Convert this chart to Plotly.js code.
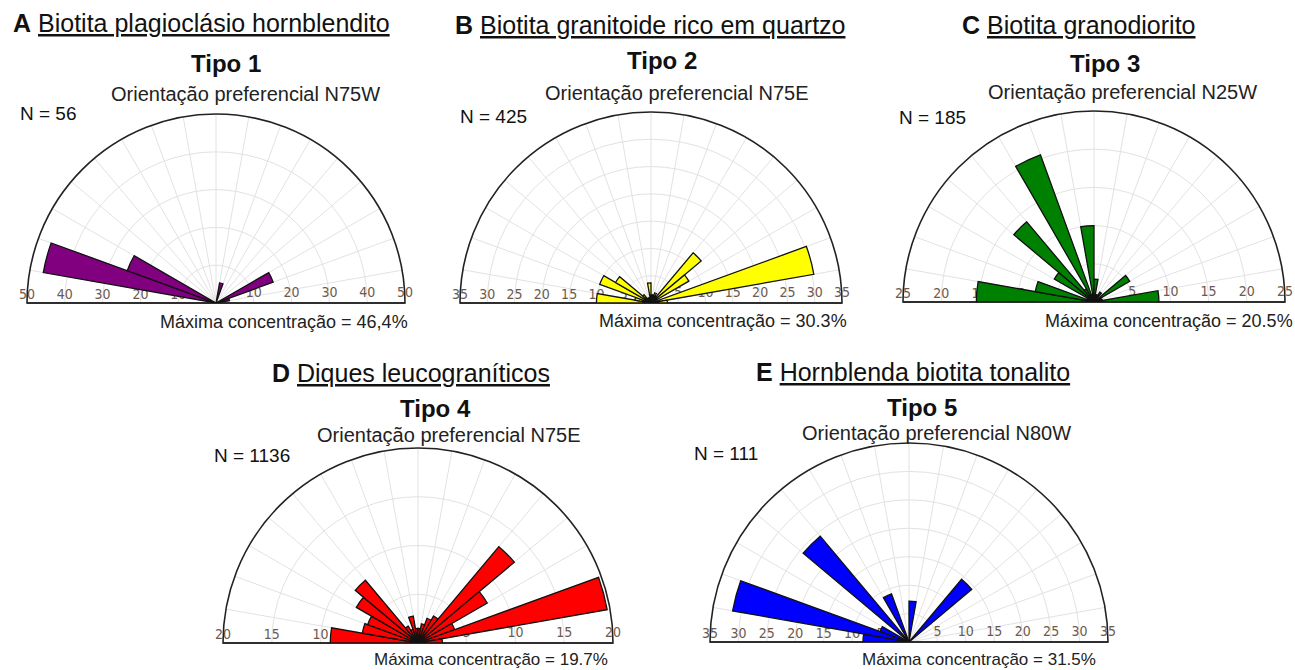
<!DOCTYPE html>
<html><head><meta charset="utf-8">
<script src="https://cdn.plot.ly/plotly-3.0.1.min.js"></script>
<style>html,body{margin:0;padding:0;background:#fff}#chart{width:1295px;height:670px}</style>
</head><body><div id="chart"></div>
<script>
// Azimuth bin centres (degrees, W negative), 10-degree bins from N90W to N90E
const binCenters = [-85,-75,-65,-55,-45,-35,-25,-15,-5,5,15,25,35,45,55,65,75,85];

// Percent of measurements per bin
const tipo1 = [0,46.4,25.0,0,0,0,0,0,0,0,5.4,0,0,0,0,16.1,3.6,0];
const tipo2 = [10,3,10,7.5,2,1,1,1,3.7,1.5,1.5,2,1.5,12,8,1,30.3,3];
const tipo3 = [15.4,7.8,1,6,13.7,2,20.5,1,10,3,1,1,1.5,0,5.4,1,1.1,8.5];
const tipo4 = [9,5.8,5.5,7.3,8.4,2,1.5,2.8,1.5,1.5,2,2.7,3.2,12.9,8.2,4,19.7,2.5];
const tipo5 = [8.1,31.5,5.4,0,24.3,0,9,0,0,7.2,0,0,0,14.4,0,0,0,0];

// Radial tick labels
const ticks1 = [10,20,30,40,50];
const ticks2 = [5,10,15,20,25,30,35];
const ticks3 = [5,10,15,20,25];
const ticks4 = [5,10,15,20];
const ticks5 = [5,10,15,20,25,30,35];
const maxR = [50,35,25,20,35];

// Text
const letters = ['A','B','C','D','E'];
const names = ['Biotita plagioclásio hornblendito','Biotita granitoide rico em quartzo','Biotita granodiorito','Diques leucograníticos','Hornblenda biotita tonalito'];
const tipos = ['Tipo 1','Tipo 2','Tipo 3','Tipo 4','Tipo 5'];
const orients = ['N75W','N75E','N25W','N75E','N80W'];
const counts = [56,425,185,1136,111];
const maxConc = ['46,4%','30.3%','20.5%','19.7%','31.5%'];

const series = [tipo1,tipo2,tipo3,tipo4,tipo5];
const tickSets = [ticks1,ticks2,ticks3,ticks4,ticks5];
const colors = ['#800080','#ffff00','#008000','#ff0000','#0000ff'];

// Layout geometry (pixels)
const W = 1295, H = 670;
const geo = [
  {cx:216, cy:303, R:189, title:[201,23], tipo:[226,63], ori:[245,94], n:[18,113], mc:[158,322], ms:18},
  {cx:651, cy:303, R:191, title:[650,25], tipo:[662,60], ori:[676,93], n:[458,116], mc:[597,321], ms:18},
  {cx:1094, cy:302, R:191, title:[1078,25], tipo:[1105,63], ori:[1122,92], n:[897,118], mc:[1043,321], ms:18},
  {cx:418, cy:643, R:195, title:[411,373], tipo:[435,408], ori:[448,435], n:[212,455], mc:[372,659], ms:17},
  {cx:909, cy:642, R:199, title:[913,372], tipo:[922,407], ori:[937,433], n:[692,453], mc:[860,659], ms:17}
];

const FONT = 'Liberation Sans, Arial, sans-serif';
const tickFont = {family:'Liberation Sans Narrow, DejaVu Sans Condensed, Liberation Sans, Arial', size:14, color:'#6b5a4e'};
const angBase = {rotation:90, direction:'clockwise', thetaunit:'degrees', type:'linear'};

const data = [];
const layout = {
  width:W, height:H, margin:{l:0,r:0,t:0,b:0},
  paper_bgcolor:'#fff', showlegend:false, annotations:[]
};
const px = x => x / W, py = y => 1 - y / H;

geo.forEach((g, i) => {
  const base = 3*i + 1;
  const ids = [base, base+1, base+2].map(k => k === 1 ? 'polar' : 'polar' + k);
  const domain = {x:[px(g.cx - g.R), px(g.cx + g.R)], y:[py(g.cy), py(g.cy - g.R)]};
  // grid + left radial labels
  layout[ids[0]] = {
    domain, sector:[0,180], bgcolor:'#fff',
    angularaxis:Object.assign({}, angBase, {tickmode:'linear', tick0:0, dtick:10, showticklabels:false, ticks:'',
      showgrid:true, gridcolor:'#e2e2e2', gridwidth:1, showline:true, linecolor:'#222', linewidth:1.6}),
    radialaxis:{range:[0, maxR[i]], autorange:false, angle:180, side:'clockwise', tickmode:'array', tickvals:tickSets[i],
      ticks:'', tickangle:180, showgrid:true, gridcolor:'#e2e2e2', gridwidth:1, showline:true, linecolor:'#222', linewidth:1.6,
      tickfont:tickFont, layer:'below traces'}
  };
  // right radial labels
  layout[ids[1]] = {
    domain, sector:[0,180], bgcolor:'rgba(0,0,0,0)',
    angularaxis:Object.assign({}, angBase, {showticklabels:false, ticks:'', showgrid:false, showline:false}),
    radialaxis:{range:[0, maxR[i]], autorange:false, angle:0, side:'counterclockwise', tickmode:'array', tickvals:tickSets[i],
      ticks:'', showgrid:false, showline:true, linecolor:'#222', linewidth:1.6, tickfont:tickFont, layer:'below traces'}
  };
  // data
  layout[ids[2]] = {
    domain, sector:[0,180], bgcolor:'rgba(0,0,0,0)',
    angularaxis:Object.assign({}, angBase, {showticklabels:false, ticks:'', showgrid:false, showline:false}),
    radialaxis:{range:[0, maxR[i]], autorange:false, visible:false}
  };
  data.push({type:'barpolar', r:[0], theta:[0], subplot:ids[0], hoverinfo:'skip', marker:{color:'rgba(0,0,0,0)'}});
  data.push({type:'barpolar', r:[0], theta:[0], subplot:ids[1], hoverinfo:'skip', marker:{color:'rgba(0,0,0,0)'}});
  data.push({type:'barpolar', r:series[i], theta:binCenters, width:10, subplot:ids[2], name:tipos[i],
    marker:{color:colors[i], line:{color:'#111', width:1.3}}});

  const ann = (t, xy, size, anchor, color) => layout.annotations.push({
    text:t, xref:'paper', yref:'paper', x:px(xy[0]), y:py(xy[1]), xanchor:anchor, yanchor:'middle',
    showarrow:false, font:{family:FONT, size:size, color:color || '#111'}});
  ann('<b>' + letters[i] + '</b> <u>' + names[i] + '</u>', g.title, 25, 'center');
  ann('<b>' + tipos[i] + '</b>', g.tipo, 24, 'center');
  ann('Orientação preferencial ' + orients[i], g.ori, 20, 'center', '#222');
  ann('N = ' + counts[i], g.n, 19, 'left');
  ann('Máxima concentração = ' + maxConc[i], g.mc, g.ms, 'left', '#222');
});

Plotly.newPlot('chart', data, layout, {staticPlot:true});
</script>
</body></html>
